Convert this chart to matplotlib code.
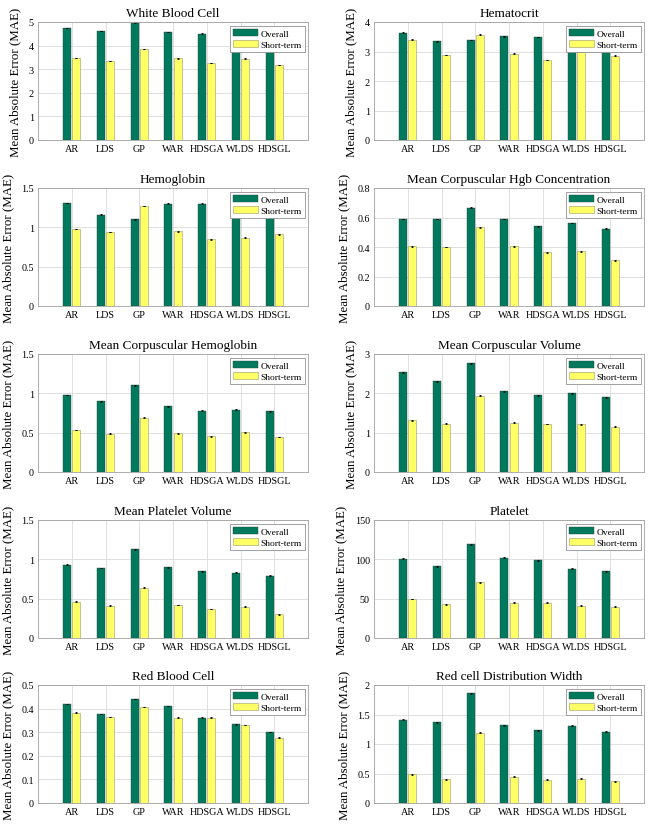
import numpy as np
import matplotlib
matplotlib.use("Agg")
import matplotlib.pyplot as plt
from matplotlib.ticker import FuncFormatter

plt.rcParams["font.family"] = ["Liberation Serif", "DejaVu Serif"]

methods = ["AR", "LDS", "GP", "WAR", "HDSGA", "WLDS", "HDSGL"]
series_names = ["Overall", "Short-term"]

titles = [
    "White Blood Cell", "Hematocrit",
    "Hemoglobin", "Mean Corpuscular Hgb Concentration",
    "Mean Corpuscular Hemoglobin", "Mean Corpuscular Volume",
    "Mean Platelet Volume", "Platelet",
    "Red Blood Cell", "Red cell Distribution Width",
]

# MAE values per panel (overall, short-term)
wbc_overall = [4.75, 4.62, 4.97, 4.58, 4.50, 4.45, 4.35]
wbc_short = [3.48, 3.35, 3.85, 3.46, 3.26, 3.44, 3.18]
hct_overall = [3.64, 3.35, 3.39, 3.51, 3.49, 3.30, 3.25]
hct_short = [3.40, 2.88, 3.57, 2.92, 2.71, 3.00, 2.85]
hgb_overall = [1.31, 1.16, 1.10, 1.30, 1.30, 1.20, 1.19]
hgb_short = [0.98, 0.94, 1.27, 0.95, 0.85, 0.87, 0.91]
mchc_overall = [0.59, 0.59, 0.665, 0.59, 0.54, 0.563, 0.525]
mchc_short = [0.405, 0.40, 0.535, 0.405, 0.365, 0.37, 0.31]
mch_overall = [0.98, 0.90, 1.10, 0.835, 0.78, 0.79, 0.77]
mch_short = [0.535, 0.485, 0.69, 0.49, 0.455, 0.505, 0.445]
mcv_overall = [2.53, 2.31, 2.77, 2.05, 1.95, 2.00, 1.90]
mcv_short = [1.31, 1.23, 1.94, 1.25, 1.22, 1.21, 1.15]
mpv_overall = [0.93, 0.89, 1.13, 0.90, 0.85, 0.83, 0.79]
mpv_short = [0.46, 0.41, 0.64, 0.42, 0.37, 0.40, 0.30]
plt_overall = [101, 91, 119, 102, 99, 88, 85]
plt_short = [49.5, 43, 71, 45, 45, 41, 40]
rbc_overall = [0.42, 0.377, 0.441, 0.411, 0.362, 0.333, 0.301]
rbc_short = [0.382, 0.364, 0.407, 0.362, 0.362, 0.331, 0.277]
rdw_overall = [1.41, 1.37, 1.86, 1.32, 1.23, 1.31, 1.21]
rdw_short = [0.49, 0.40, 1.19, 0.445, 0.395, 0.41, 0.37]

overall = [wbc_overall, hct_overall, hgb_overall, mchc_overall, mch_overall,
           mcv_overall, mpv_overall, plt_overall, rbc_overall, rdw_overall]
short = [wbc_short, hct_short, hgb_short, mchc_short, mch_short,
         mcv_short, mpv_short, plt_short, rbc_short, rdw_short]

# small error bar half-widths per panel
errs = [0.015, 0.015, 0.005, 0.003, 0.005, 0.012, 0.005, 0.5, 0.0015, 0.008]

ylims = [5, 4, 1.5, 0.8, 1.5, 3, 1.5, 150, 0.5, 2]
ysteps = [1, 1, 0.5, 0.2, 0.5, 1, 0.5, 50, 0.1, 0.5]

green = "#00795C"
yellow = "#FFFF66"

fig = plt.figure(figsize=(6.72, 8.29), dpi=100)
lefts = [38 / 672, 374 / 672]
bottoms = [1 - 141 / 829, 1 - 307 / 829, 1 - 473 / 829, 1 - 639 / 829, 1 - 804 / 829]
w = 270 / 672
h = 118 / 829

fmt = FuncFormatter(lambda v, p: "%g" % round(v, 6))
x = np.arange(1, len(methods) + 1)
bw = 0.24
ekw = dict(ecolor="k", elinewidth=0.6, capsize=1.0, capthick=0.6)

for i in range(10):
    r, c = divmod(i, 2)
    ax = fig.add_axes([lefts[c], bottoms[r], w, h])
    ax.set_axisbelow(True)
    ax.grid(True, color="#DADADA", linewidth=0.6)
    b1 = ax.bar(x - 0.135, overall[i], bw, color=green, edgecolor="#2a4a40",
                linewidth=0.3, yerr=errs[i], error_kw=ekw)
    b2 = ax.bar(x + 0.135, short[i], bw, color=yellow, edgecolor="#999966",
                linewidth=0.4, yerr=errs[i], error_kw=ekw)
    ax.set_xlim(0, 8)
    ax.set_ylim(0, ylims[i])
    ax.set_yticks(np.arange(0, ylims[i] + ysteps[i] / 2, ysteps[i]))
    ax.yaxis.set_major_formatter(fmt)
    ax.set_xticks(x)
    ax.set_xticklabels(methods)
    ax.tick_params(length=0, labelsize=7.3, pad=3)
    for s in ax.spines.values():
        s.set_color("#A0A0A0")
        s.set_linewidth(0.6)
    ax.set_title(titles[i], fontsize=9.5, pad=4)
    ax.set_ylabel("Mean Absolute Error (MAE)", fontsize=9.3, labelpad=5)
    leg = ax.legend([b1, b2], series_names, loc="upper right", fontsize=6.8,
                    fancybox=False, framealpha=1, edgecolor="#909090",
                    handlelength=2.6, handleheight=0.75, borderpad=0.35,
                    labelspacing=0.3, handletextpad=0.3, borderaxespad=0,
                    bbox_to_anchor=(0.99, 0.97))
    leg.get_frame().set_linewidth(0.6)

fig.savefig("out.png", dpi=100)
